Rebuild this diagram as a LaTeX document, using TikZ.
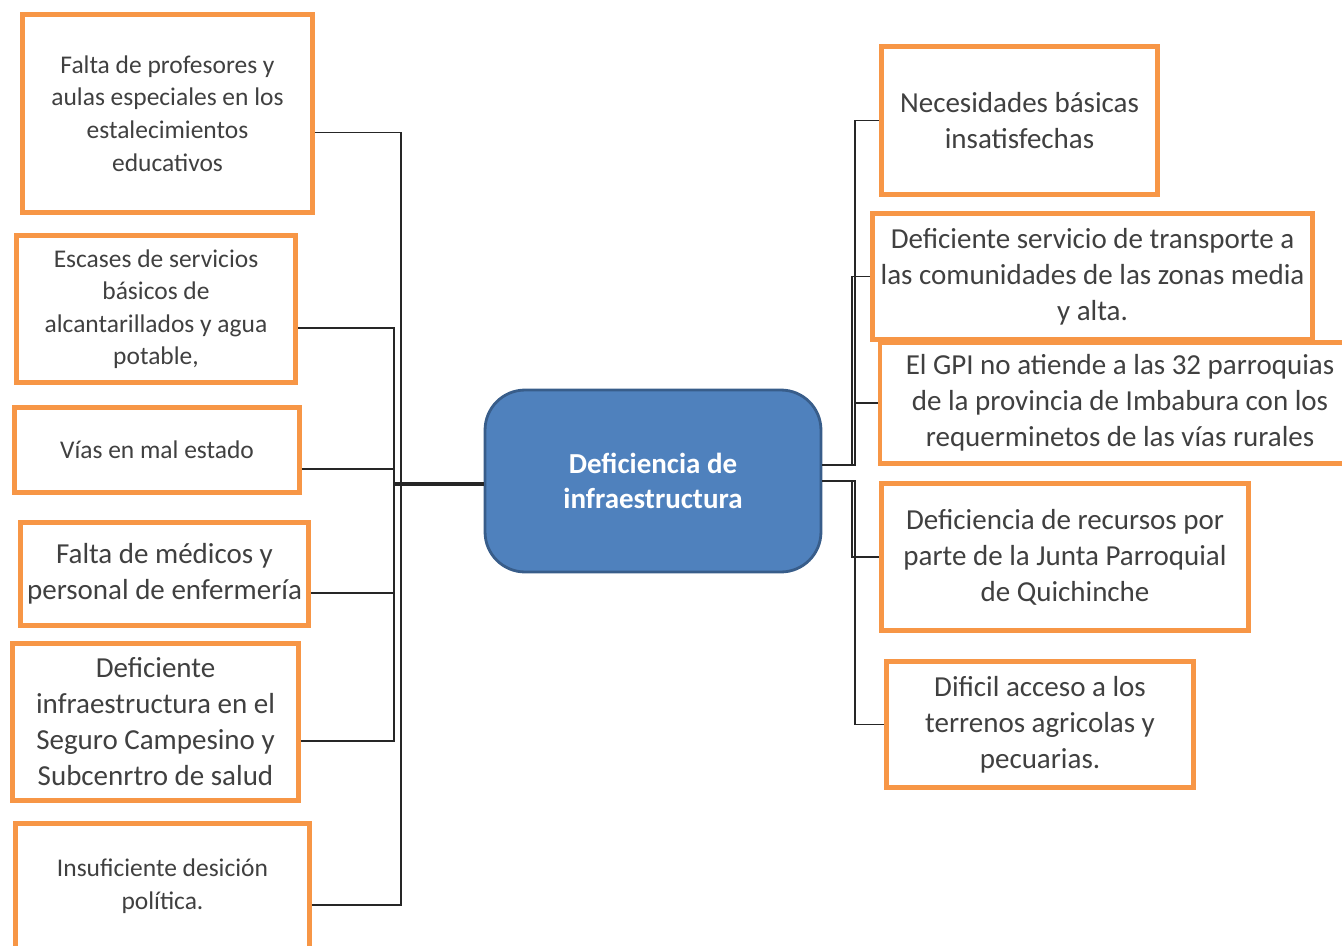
\documentclass[tikz,border=0pt]{standalone}
\usepackage{fontspec}
\setmainfont{Carlito}
\usepackage{tikz}
\usetikzlibrary{calc}
\definecolor{naranja}{RGB}{247,150,70}
\definecolor{azulcaja}{RGB}{79,129,189}
\definecolor{azulborde}{RGB}{56,93,138}
\definecolor{gristexto}{RGB}{64,64,64}
\tikzset{
    causa/.style={
        draw=naranja,
        line width=2.6pt,
        fill=white,
        align=center,
        text=gristexto,
        inner sep=2pt
    },
    letragrande/.style={font=\fontsize{16.5}{20.5}\selectfont},
    letrachica/.style={font=\fontsize{14.5}{18.5}\selectfont},
    % caja central azul
    problema/.style={
        draw=azulborde,
        line width=1.6pt,
        fill=azulcaja,
        rounded corners=0.8cm,
        text=white,
        align=center,
        font=\bfseries\fontsize{16.5}{19.5}\selectfont
    },
    conector/.style={line width=1.1pt, black!85}
}

\begin{document}
\begin{tikzpicture}[x=0.02cm,y=-0.02cm]
    \useasboundingbox (0,0) rectangle (1342,946);
    \clip (0,0) rectangle (1342,946);
    % ===================== centro =====================
    \node[problema,minimum width=6.72cm,minimum height=3.64cm] (deficiencia) at (653,481) {Deficiencia de\\infraestructura};
    \coordinate (eje-ext) at (401,484);
    \coordinate (eje-int) at (394,484);

    % ===================== izquierda =====================
    \node[causa,letrachica,minimum width=5.8cm,minimum height=3.96cm] (profesores) at (167.5,113.5) {Falta de profesores y\\aulas especiales en los\\estalecimientos\\educativos};
    \node[causa,letrachica,minimum width=5.58cm,minimum height=2.94cm] (servicios) at (156,309) {Escases de servicios\\básicos de\\alcantarillados y agua\\potable,};
    \node[causa,letrachica,minimum width=5.7cm,minimum height=1.7cm] (vias) at (157,450) {Vías en mal estado};
    \node[causa,letragrande,minimum width=5.76cm,minimum height=2.06cm] (medicos) at (164.5,574) {Falta de médicos y\\personal de enfermería};
    \node[causa,letragrande,minimum width=5.72cm,minimum height=3.14cm] (seguro) at (155.5,722) {Deficiente\\infraestructura en el\\Seguro Campesino y\\Subcenrtro de salud};
    \node[causa,letrachica,minimum width=5.88cm,minimum height=2.5cm] (desicion) at (162.5,886) {Insuficiente desición\\política.};

    \draw[conector] ([yshift=-0.38cm]profesores.east) -| (eje-ext);
    \draw[conector] ([yshift=-0.38cm]desicion.east) -| (eje-ext);
    \draw[conector] ([yshift=-0.38cm]servicios.east) -| (eje-int);
    \draw[conector] ([yshift=-0.38cm]vias.east) -| (eje-int);
    \draw[conector] ([yshift=-0.38cm]medicos.east) -| (eje-int);
    \draw[conector] ([yshift=-0.38cm]seguro.east) -| (eje-int);
    \draw[conector,line width=2.2pt] (eje-int) -- (eje-int -| deficiencia.west);

    % ===================== derecha =====================
    \node[causa,letragrande,minimum width=5.52cm,minimum height=2.96cm] (necesidades) at (1019.5,120.5) {Necesidades básicas\\insatisfechas};
    \node[causa,letragrande,minimum width=8.8cm,minimum height=2.52cm] (transporte) at (1092.5,276.5) {Deficiente servicio de transporte a\\las comunidades de las zonas media\\y alta.};
    \node[causa,letragrande,minimum width=9.6cm,minimum height=2.42cm] (gpi) at (1120,403) {El GPI no atiende a las 32 parroquias\\de la provincia de Imbabura con los\\requerminetos de las vías rurales};
    \node[causa,letragrande,minimum width=7.34cm,minimum height=2.94cm] (recursos) at (1065,557) {Deficiencia de recursos por\\parte de la Junta Parroquial\\de Quichinche};
    \node[causa,letragrande,minimum width=6.14cm,minimum height=2.52cm] (acceso) at (1040,724.5) {Dificil acceso a los\\terrenos agricolas y\\pecuarias.};

    \draw[conector] ([yshift=0.32cm]deficiencia.east) -| (855,0 |- necesidades.west) -- (necesidades.west);
    \draw[conector] ([yshift=0.32cm]deficiencia.east) -| (852,0 |- transporte.west) -- (transporte.west);
    \draw[conector] ([yshift=0.32cm]deficiencia.east) -| (855,0 |- gpi.west) -- (gpi.west);
    \draw[conector] (deficiencia.east) -| (852,0 |- recursos.west) -- (recursos.west);
    \draw[conector] (deficiencia.east) -| (855,0 |- acceso.west) -- (acceso.west);
\end{tikzpicture}
\end{document}
